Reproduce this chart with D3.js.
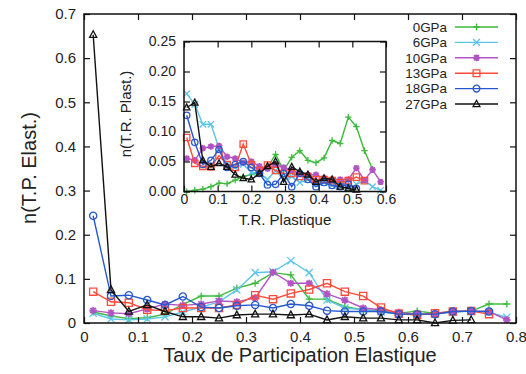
<!DOCTYPE html>
<html>
<head>
<meta charset="utf-8">
<script src="https://cdn.jsdelivr.net/npm/d3@7/dist/d3.min.js"></script>
<style>
  body { margin: 0; background: #fff; }
  text { font-family: "Liberation Sans", Arial, Helvetica, sans-serif; fill: #222; }
</style>
</head>
<body>
<div id="chart"></div>
<script>
// main plot : bin centres and the six pressure series
var mainX = [0.017,0.050,0.083,0.117,0.150,0.183,0.217,0.250,0.283,0.317,0.350,0.383,
             0.417,0.450,0.483,0.517,0.550,0.583,0.617,0.650,0.683,0.717,0.750,0.783];
var main0  = [0.025,0.016,0.010,0.012,0.020,0.042,0.061,0.061,0.079,0.090,0.114,0.109,0.054,0.054,0.037,0.030,0.027,0.022,0.027,0.022,0.026,0.027,0.043,0.043];
var main6  = [0.022,0.009,0.007,0.009,0.014,0.025,0.036,0.048,0.075,0.114,0.116,0.141,0.114,0.052,0.034,0.030,0.025,0.020,0.020,0.020,0.024,0.027,0.024,0.013];
var main10 = [0.028,0.023,0.021,0.032,0.043,0.040,0.043,0.050,0.048,0.057,0.115,0.090,0.090,0.066,0.052,0.034,0.030,0.024,0.020,0.020,0.026,0.027,0.026,0.007];
var main13 = [0.071,0.048,0.046,0.030,0.028,0.034,0.034,0.034,0.041,0.063,0.054,0.067,0.076,0.090,0.071,0.061,0.035,0.021,0.018,0.022,0.026,0.027,0.020];
var main18 = [0.243,0.061,0.063,0.052,0.041,0.060,0.036,0.034,0.039,0.041,0.034,0.043,0.039,0.028,0.026,0.026,0.026,0.020,0.020,0.020,0.026,0.027,0.026];
var main27 = [0.653,0.075,0.026,0.041,0.026,0.014,0.014,0.011,0.018,0.020,0.020,0.018,0.020,0.007,0.014,0.011,0.011,0.007,0.007,0.000,0.006,0.007];

// inset : T.R. plastique
var insetX = [0.008,0.032,0.056,0.080,0.104,0.128,0.152,0.176,0.200,0.224,0.248,0.272,0.296,
              0.320,0.344,0.368,0.392,0.416,0.440,0.464,0.488,0.512,0.536,0.560,0.584];
var ins0  = [0.000,0.002,0.004,0.008,0.014,0.013,0.019,0.025,0.028,0.033,0.040,0.062,0.035,0.057,0.068,0.052,0.048,0.056,0.085,0.080,0.124,0.108,0.068,0.037];
var ins6  = [0.163,0.145,0.112,0.112,0.072,0.045,0.040,0.045,0.032,0.030,0.020,0.035,0.020,0.025,0.015,0.020,0.012,0.015,0.010,0.008,0.005,0.012,0.018,0.008,0.002];
var ins10 = [0.055,0.052,0.072,0.075,0.076,0.058,0.055,0.048,0.050,0.042,0.038,0.045,0.040,0.035,0.030,0.028,0.028,0.022,0.020,0.020,0.020,0.039,0.019,0.036,0.016];
var ins13 = [0.090,0.047,0.042,0.041,0.060,0.045,0.040,0.079,0.045,0.035,0.044,0.035,0.030,0.030,0.025,0.025,0.020,0.020,0.018,0.015,0.018,0.024,0.018];
var ins18 = [0.127,0.082,0.045,0.052,0.070,0.040,0.045,0.050,0.040,0.030,0.011,0.012,0.030,0.008,0.030,0.020,0.008,0.015,0.010,0.008,0.012,0.005];
var ins27 = [0.140,0.148,0.052,0.041,0.047,0.041,0.028,0.022,0.020,0.030,0.042,0.050,0.016,0.041,0.033,0.028,0.016,0.022,0.020,0.008,0.005,0.003];

var names   = ["0GPa","6GPa","10GPa","13GPa","18GPa","27GPa"];
var colors  = ["#3dba3d","#5cc6e6","#b254c4","#ff4a3a","#2858cf","#111111"];
var symbols = ["plus","cross","star","square","circle","triangle"];
var mainTicksX = [0,0.1,0.2,0.3,0.4,0.5,0.6,0.7,0.8];
var mainTicksY = [0,0.1,0.2,0.3,0.4,0.5,0.6,0.7];
var insetTicksX = [0,0.1,0.2,0.3,0.4,0.5,0.6];
var insetTicksY = [0,0.05,0.10,0.15,0.20,0.25];

function init(){
  var svg = d3.select("#chart").append("svg")
      .attr("width", 526).attr("height", 374);

  // marker path for a symbol
  function marker(sym, s){
    if (sym == "plus") return "M"+(-s)+",0H"+s+"M0,"+(-s)+"V"+s;
    if (sym == "cross") return "M"+(-s)+","+(-s)+"L"+s+","+s+"M"+(-s)+","+s+"L"+s+","+(-s);
    if (sym == "star") {
      var d = s*0.75;
      return "M"+(-s)+",0H"+s+"M0,"+(-s)+"V"+s+"M"+(-d)+","+(-d)+"L"+d+","+d+"M"+(-d)+","+d+"L"+d+","+(-d);
    }
    if (sym == "square") return "M"+(-s)+","+(-s)+"H"+s+"V"+s+"H"+(-s)+"Z";
    if (sym == "circle") return "M"+(-s)+",0A"+s+","+s+" 0 1,0 "+s+",0A"+s+","+s+" 0 1,0 "+(-s)+",0";
    return "M0,"+(-s*1.1)+"L"+(s)+","+(s*0.75)+"L"+(-s)+","+(s*0.75)+"Z";
  }

  function drawPanel(g, xs, ys, xvals, series, msize){
    series.forEach(function(vals, i){
      var pts = vals.map(function(v, j){ return [xvals[j], v]; });
      g.append("path")
        .datum(pts)
        .attr("fill", "none")
        .attr("stroke", colors[i])
        .attr("stroke-width", 1.4)
        .attr("d", d3.line().x(function(d){ return xs(d[0]); }).y(function(d){ return ys(d[1]); }));
      g.selectAll(".m" + i)
        .data(pts)
        .enter()
        .append("path")
          .attr("transform", function(d){ return "translate(" + xs(d[0]) + "," + ys(d[1]) + ")"; })
          .attr("d", marker(symbols[i], msize))
          .attr("fill", "none")
          .attr("stroke", colors[i])
          .attr("stroke-width", symbols[i] == "star" ? 1.8 : 1.3);
    });
  }

  function frame(g, xs, ys, tx, ty, fx, fy, padX, padY, fsize){
    g.append("g").attr("transform", "translate(0," + ys.range()[0] + ")")
      .call(d3.axisBottom(xs).tickValues(tx).tickSize(-6).tickPadding(padX).tickFormat(fx));
    g.append("g").attr("transform", "translate(0," + ys.range()[1] + ")")
      .call(d3.axisTop(xs).tickValues(tx).tickSize(-6).tickFormat(""));
    g.append("g").attr("transform", "translate(" + xs.range()[0] + ",0)")
      .call(d3.axisLeft(ys).tickValues(ty).tickSize(-6).tickPadding(padY).tickFormat(fy));
    g.append("g").attr("transform", "translate(" + xs.range()[1] + ",0)")
      .call(d3.axisRight(ys).tickValues(ty).tickSize(-6).tickFormat(""));
    g.selectAll(".domain").remove();
    g.selectAll(".tick line").attr("stroke", "#111").attr("stroke-width", 1.2);
    g.selectAll(".tick text").style("font-size", fsize).attr("fill", "#222");
    g.append("rect")
      .attr("x", xs.range()[0]).attr("y", ys.range()[1])
      .attr("width", xs.range()[1] - xs.range()[0])
      .attr("height", ys.range()[0] - ys.range()[1])
      .attr("fill", "none").attr("stroke", "#111").attr("stroke-width", 1.5);
  }

  // main chart
  var x = d3.scaleLinear().domain([0, 0.8]).range([84, 516]);
  var y = d3.scaleLinear().domain([0, 0.7]).range([323, 14]);
  var mainG = svg.append("g");
  drawPanel(mainG, x, y, mainX, [main0, main6, main10, main13, main18, main27], 3.6);
  frame(mainG, x, y, mainTicksX, mainTicksY,
        function(d){ return d == 0 ? "0" : d3.format(".1f")(d); },
        function(d){ return d == 0 ? "0" : d3.format(".1f")(d); }, 8, 8, "15px");

  svg.append("text")
    .attr("text-anchor", "middle")
    .attr("x", 300).attr("y", 362)
    .style("font-size", "20px")
    .text("Taux de Participation Elastique");
  svg.append("text")
    .attr("text-anchor", "middle")
    .attr("transform", "translate(36,168) rotate(-90)")
    .style("font-size", "20px")
    .text("n(T.P. Elast.)");

  // inset
  var ix = d3.scaleLinear().domain([0, 0.6]).range([184, 386]);
  var iy = d3.scaleLinear().domain([0, 0.25]).range([191.5, 41.5]);
  var inG = svg.append("g");
  inG.append("rect").attr("x", 184).attr("y", 41.5).attr("width", 202).attr("height", 150).attr("fill", "#fff");
  drawPanel(inG, ix, iy, insetX, [ins0, ins6, ins10, ins13, ins18, ins27], 3.2);
  frame(inG, ix, iy, insetTicksX, insetTicksY,
        function(d){ return d == 0 ? "0" : d3.format(".1f")(d); },
        function(d){ return d3.format(".2f")(d); }, 3, 8, "14px");

  svg.append("text")
    .attr("text-anchor", "middle")
    .attr("x", 285).attr("y", 225)
    .style("font-size", "15px")
    .text("T.R. Plastique");
  svg.append("text")
    .attr("text-anchor", "middle")
    .attr("transform", "translate(131,114) rotate(-90)")
    .style("font-size", "15px")
    .text("n(T.R. Plast.)");

  // legend
  var leg = svg.selectAll(".leg")
    .data(names)
    .enter()
    .append("g")
      .attr("transform", function(d, i){ return "translate(0," + (27 + i*15.4) + ")"; });
  leg.append("text")
    .attr("x", 447).attr("dy", "0.35em")
    .attr("text-anchor", "end")
    .style("font-size", "13.4px")
    .text(function(d){ return d; });
  leg.append("line")
    .attr("x1", 455).attr("x2", 498)
    .attr("stroke", function(d, i){ return colors[i]; })
    .attr("stroke-width", 1.4);
  leg.append("path")
    .attr("transform", "translate(476.5,0)")
    .attr("d", function(d, i){ return marker(symbols[i], 3.4); })
    .attr("fill", "none")
    .attr("stroke", function(d, i){ return colors[i]; })
    .attr("stroke-width", function(d, i){ return symbols[i] == "star" ? 1.8 : 1.3; });
}
window.onload = init;
</script>
</body>
</html>
